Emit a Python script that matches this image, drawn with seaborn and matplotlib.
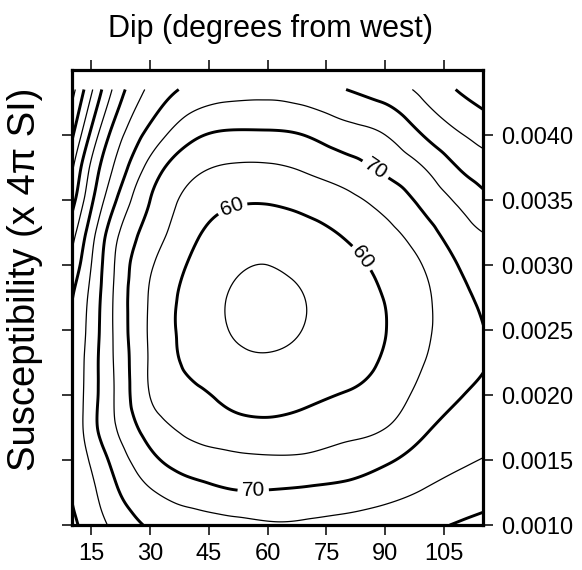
import numpy as np
import matplotlib
matplotlib.use("Agg")
import matplotlib.pyplot as plt
import matplotlib.tri as mtri
import seaborn as sns

# ---- data (misfit surface) ----
dip = [10, 15, 20, 30, 40, 50, 60, 70, 80, 90, 100, 110, 115]
susceptibility = [0.00100, 0.00125, 0.00150, 0.00175, 0.00200, 0.00225, 0.00250,
                  0.00275, 0.00300, 0.00325, 0.00350, 0.00375, 0.00400, 0.00435]

misfit_dip_10 = [91.0, 89.8, 89.6, 89.6, 89.5, 89.5, 89.6, 90.3, 93.5, 97.2, 102.2, 106.1, 111.0, 117.0]
misfit_dip_15 = [87.7, 86.2, 84.3, 82.0, 82.2, 82.4, 83.0, 83.6, 85.0, 87.2, 91.0, 94.0, 98.8, 105.8]
misfit_dip_20 = [84.4, 81.8, 79.3, 76.3, 76.0, 75.8, 75.7, 75.8, 76.4, 78.0, 82.1, 85.7, 89.3, 95.5]
misfit_dip_30 = [79.4, 75.6, 71.4, 67.7, 64.9, 64.5, 64.4, 64.6, 65.6, 67.9, 70.0, 73.3, 78.3, 84.0]
misfit_dip_40 = [78.0, 72.5, 67.5, 63.9, 61.2, 59.2, 58.3, 58.3, 59.6, 61.5, 63.6, 66.6, 71.4, 79.0]
misfit_dip_50 = [77.0, 70.6, 66.2, 62.0, 58.8, 56.4, 55.0, 54.9, 55.9, 58.0, 60.8, 64.5, 69.2, 77.2]
misfit_dip_60 = [75.6, 70.4, 65.7, 61.3, 57.7, 55.5, 54.2, 54.1, 55.0, 57.0, 60.5, 64.4, 69.2, 76.7]
misfit_dip_70 = [75.8, 71.0, 65.9, 62.1, 58.8, 56.4, 55.2, 55.1, 56.2, 58.4, 61.8, 65.7, 70.2, 78.0]
misfit_dip_80 = [76.8, 71.8, 67.1, 63.5, 60.3, 58.3, 57.2, 57.3, 58.4, 60.6, 63.7, 68.0, 72.8, 80.0]
misfit_dip_90 = [77.6, 73.5, 69.2, 64.9, 62.2, 60.6, 59.9, 60.2, 61.4, 63.6, 66.9, 71.0, 75.0, 82.6]
misfit_dip_100 = [78.9, 75.4, 72.3, 69.2, 66.8, 65.0, 64.1, 64.1, 65.3, 68.0, 71.4, 75.1, 80.3, 86.4]
misfit_dip_110 = [80.6, 77.2, 74.4, 71.9, 70.0, 68.8, 68.3, 69.0, 70.8, 73.3, 76.4, 80.8, 85.0, 90.8]
misfit_dip_115 = [81.4, 78.0, 75.2, 72.6, 70.8, 69.8, 69.9, 71.0, 72.9, 75.0, 78.7, 82.7, 86.7, 92.5]

thin_levels = [55, 65, 75, 85, 95, 105, 115]
bold_levels = [60, 70, 80, 90, 100, 110]
labelled_levels = [60, 70]

x_ticks = [15, 30, 45, 60, 75, 90, 105]
y_ticks = [0.0010, 0.0015, 0.0020, 0.0025, 0.0030, 0.0035, 0.0040]

# ---- build grid (contoured as squared misfit, same iso-lines) ----
Z = np.column_stack([misfit_dip_10, misfit_dip_15, misfit_dip_20, misfit_dip_30,
                     misfit_dip_40, misfit_dip_50, misfit_dip_60, misfit_dip_70,
                     misfit_dip_80, misfit_dip_90, misfit_dip_100, misfit_dip_110,
                     misfit_dip_115])
X, Y = np.meshgrid(dip, susceptibility)
ny, nx = Z.shape
tris = []
for j in range(ny - 1):
    for i in range(nx - 1):
        a = j * nx + i
        b = a + 1
        c = a + nx
        d = c + 1
        tris.append([a, b, d])
        tris.append([a, d, c])
scale = 33000.0
Z2 = (Z ** 2).ravel()
tri_s = mtri.Triangulation(X.ravel(), Y.ravel() * scale, tris)
interp = mtri.CubicTriInterpolator(tri_s, Z2, kind="min_E")
refiner = mtri.UniformTriRefiner(tri_s)
tri_r, z_r = refiner.refine_field(Z2, triinterpolator=interp, subdiv=4)
tri_plot = mtri.Triangulation(tri_r.x, tri_r.y / scale, tri_r.triangles)

# ---- plot ----
sns.set_style("white")
plt.rcParams["font.family"] = ["Liberation Sans", "DejaVu Sans"]

fig = plt.figure(figsize=(5.82, 5.70), dpi=100)
ax = fig.add_axes([0.1232, 0.0789, 0.7072, 0.7983])

ax.tricontour(tri_plot, z_r, levels=[v ** 2 for v in thin_levels],
              colors="black", linewidths=0.9)
cs_bold = ax.tricontour(tri_plot, z_r, levels=[v ** 2 for v in bold_levels],
                        colors="black", linewidths=2.1)
ax.clabel(cs_bold, levels=[v ** 2 for v in labelled_levels],
          fmt={v ** 2: str(v) for v in bold_levels}, fontsize=15, inline=True,
          inline_spacing=4,
          manual=[(50.9, 0.003445), (84.3, 0.00306), (87.9, 0.003753), (56.3, 0.00127)])

ax.set_xlim(10, 115)
ax.set_ylim(0.0010, 0.0045)
ax.set_xticks(x_ticks)
ax.set_xticklabels([str(v) for v in x_ticks])
ax.set_yticks(y_ticks)
ax.set_yticklabels([f"{v:.4f}" for v in y_ticks])

ax.tick_params(axis="both", which="major", direction="out", length=7, width=1.1,
               color="black", labelsize=17, labelcolor="black",
               top=True, bottom=True, left=True, right=True,
               labeltop=False, labelbottom=True, labelleft=False, labelright=True, pad=6)

for sp in ax.spines.values():
    sp.set_linewidth(2.3)
    sp.set_color("black")
    sp.set_visible(True)

ax.xaxis.set_label_position("top")
ax.set_xlabel("Dip (degrees from west)", fontsize=22, color="black")
ax.xaxis.set_label_coords(0.482, 1.0725)
ax.xaxis.label.set_verticalalignment("baseline")

ax.set_ylabel("Susceptibility (x 4π SI)", fontsize=27.5, color="black")
ax.yaxis.set_label_coords(-0.1135, 0.541)
ax.yaxis.label.set_verticalalignment("center")

fig.savefig("out.png", dpi=100)
